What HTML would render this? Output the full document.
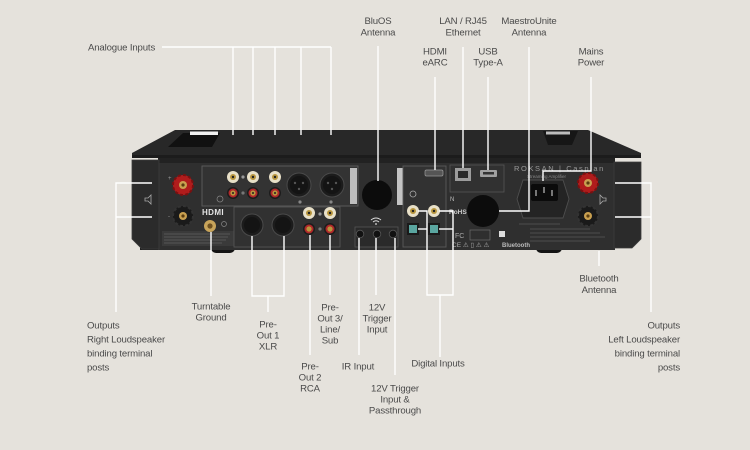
<!DOCTYPE html>
<html><head><meta charset="utf-8"><style>
html,body{margin:0;padding:0;background:#e5e2dc;}
svg{display:block;}
.t{font-family:"Liberation Sans",sans-serif;font-size:9.6px;fill:#4a4a4a;letter-spacing:-0.15px;}
.m{text-anchor:middle;}
.e{text-anchor:end;}
.w{stroke:#fff;stroke-width:1.4;fill:none;}
</style></head><body>
<svg width="750" height="450" viewBox="0 0 750 450" xmlns="http://www.w3.org/2000/svg">
<rect width="750" height="450" fill="#e5e2dc"/>

<!-- body top surface -->
<polygon points="175,130 588,130 641,153 641,158 132,158 132,153" fill="#282828"/>
<polygon points="183,133 220,133 212,147 168,147" fill="#111"/>
<rect x="190" y="131.5" width="28" height="3.5" fill="#f2f2f2"/>
<polygon points="543,131 578,131 572,145 548,145" fill="#161616"/>
<rect x="546" y="131.5" width="24" height="3" fill="#bdbdbd"/>
<rect x="132" y="155" width="509" height="3" fill="#1c1c1c"/>

<!-- feet -->
<rect x="211" y="243" width="24" height="10" rx="5" fill="#141414"/>
<rect x="536" y="243" width="26" height="10" rx="5" fill="#141414"/>
<rect x="140" y="240" width="75" height="10" fill="#1e1e1e"/>

<!-- face -->
<rect x="158" y="158" width="457" height="92" fill="#2f2f2f"/>
<rect x="158" y="158" width="457" height="5" fill="#222"/>
<!-- side blocks -->
<polygon points="132,160 159,160 159,249 142,249 132,239" fill="#2b2b2b" stroke="#3c3c3c" stroke-width="0.8"/>
<polygon points="614,162 641,162 641,239 632,248 614,248" fill="#2b2b2b" stroke="#3c3c3c" stroke-width="0.8"/>

<!-- small printed text block left -->
<rect x="162" y="231" width="72" height="15" fill="#3a3a3a"/>
<g stroke="#8a8a8a" stroke-width="0.6" opacity="0.7">
<line x1="164" y1="234" x2="230" y2="234"/><line x1="164" y1="237" x2="228" y2="237"/>
<line x1="164" y1="240" x2="226" y2="240"/><line x1="164" y1="243" x2="222" y2="243"/>
</g>

<!-- left binding posts -->
<g>
<circle cx="183" cy="185" r="10" fill="#b01c1c"/>
<circle cx="183" cy="185" r="10" fill="none" stroke="#7a1010" stroke-width="2" stroke-dasharray="3 2.2"/>
<circle cx="183" cy="185" r="4" fill="#c9a050"/><circle cx="183" cy="185" r="1.6" fill="#5a3d10"/>
<circle cx="183" cy="216" r="10" fill="#1a1a1a"/>
<circle cx="183" cy="216" r="10" fill="none" stroke="#333" stroke-width="2" stroke-dasharray="3 2.2"/>
<circle cx="183" cy="216" r="4" fill="#c9a050"/><circle cx="183" cy="216" r="1.6" fill="#5a3d10"/>
<text x="168" y="180" font-family="Liberation Sans" font-size="6" fill="#999">+</text>
<text x="168" y="218" font-family="Liberation Sans" font-size="6" fill="#999">-</text>
<path d="M145,198 h3 l3,-3 v9 l-3,-3 h-3 z" fill="none" stroke="#aaa" stroke-width="0.8"/>
</g>
<text x="202" y="215" font-family="Liberation Sans" font-size="8" font-weight="bold" fill="#e6e6e6" letter-spacing="0.4">HDMI</text>
<circle cx="210" cy="226" r="6" fill="#c8a45a"/><circle cx="210" cy="226" r="2.6" fill="#6e5020"/>
<circle cx="224" cy="224" r="2.5" fill="none" stroke="#888" stroke-width="0.7"/>

<!-- analogue subpanel -->
<rect x="202" y="166" width="156" height="40" fill="#333" stroke="#5e5e5e" stroke-width="0.9"/>
<rect x="350" y="168" width="7" height="36" fill="#bdbdbd"/>
<g>
<circle cx="233" cy="177" r="6" fill="#e8e0c8"/><circle cx="233" cy="177" r="3" fill="#b8963e"/><circle cx="233" cy="177" r="1.2" fill="#222"/>
<circle cx="253" cy="177" r="6" fill="#e8e0c8"/><circle cx="253" cy="177" r="3" fill="#b8963e"/><circle cx="253" cy="177" r="1.2" fill="#222"/>
<circle cx="275" cy="177" r="6" fill="#e8e0c8"/><circle cx="275" cy="177" r="3" fill="#b8963e"/><circle cx="275" cy="177" r="1.2" fill="#222"/>
<circle cx="233" cy="193" r="6" fill="#1c1c1c"/><circle cx="233" cy="193" r="4.5" fill="#b0282a"/><circle cx="233" cy="193" r="2.6" fill="#b8963e"/><circle cx="233" cy="193" r="1" fill="#222"/>
<circle cx="253" cy="193" r="6" fill="#1c1c1c"/><circle cx="253" cy="193" r="4.5" fill="#b0282a"/><circle cx="253" cy="193" r="2.6" fill="#b8963e"/><circle cx="253" cy="193" r="1" fill="#222"/>
<circle cx="275" cy="193" r="6" fill="#1c1c1c"/><circle cx="275" cy="193" r="4.5" fill="#b0282a"/><circle cx="275" cy="193" r="2.6" fill="#b8963e"/><circle cx="275" cy="193" r="1" fill="#222"/>
<circle cx="243" cy="177" r="1.6" fill="#999"/><circle cx="243" cy="193" r="1.6" fill="#777"/>
<circle cx="220" cy="199" r="3" fill="none" stroke="#888" stroke-width="0.7"/>
<circle cx="299" cy="185" r="12" fill="#1c1c1c" stroke="#4a4a4a" stroke-width="1"/>
<circle cx="299" cy="185" r="9" fill="#141414"/>
<circle cx="295" cy="183" r="1.2" fill="#555"/><circle cx="303" cy="183" r="1.2" fill="#555"/><circle cx="299" cy="189" r="1.2" fill="#555"/>
<circle cx="332" cy="185" r="12" fill="#1c1c1c" stroke="#4a4a4a" stroke-width="1"/>
<circle cx="332" cy="185" r="9" fill="#141414"/>
<circle cx="328" cy="183" r="1.2" fill="#555"/><circle cx="336" cy="183" r="1.2" fill="#555"/><circle cx="332" cy="189" r="1.2" fill="#555"/>
<circle cx="300" cy="202" r="1.6" fill="#888"/><circle cx="331" cy="202" r="1.6" fill="#888"/>
</g>

<!-- pre-out subpanel -->
<rect x="234" y="207" width="106" height="40" fill="#313131" stroke="#555" stroke-width="0.9"/>
<circle cx="252" cy="225" r="11" fill="#1c1c1c" stroke="#4a4a4a" stroke-width="1"/>
<circle cx="252" cy="225" r="8" fill="#141414"/>
<circle cx="283" cy="225" r="11" fill="#1c1c1c" stroke="#4a4a4a" stroke-width="1"/>
<circle cx="283" cy="225" r="8" fill="#141414"/>
<circle cx="309" cy="213" r="6" fill="#e8e0c8"/><circle cx="309" cy="213" r="3" fill="#b8963e"/><circle cx="309" cy="213" r="1.2" fill="#222"/>
<circle cx="330" cy="213" r="6" fill="#e8e0c8"/><circle cx="330" cy="213" r="3" fill="#b8963e"/><circle cx="330" cy="213" r="1.2" fill="#222"/>
<circle cx="309" cy="229" r="6" fill="#1c1c1c"/><circle cx="309" cy="229" r="4.5" fill="#b0282a"/><circle cx="309" cy="229" r="2.6" fill="#b8963e"/>
<circle cx="330" cy="229" r="6" fill="#1c1c1c"/><circle cx="330" cy="229" r="4.5" fill="#b0282a"/><circle cx="330" cy="229" r="2.6" fill="#b8963e"/>
<circle cx="320" cy="214" r="1.6" fill="#999"/><circle cx="320" cy="229" r="1.6" fill="#777"/>

<!-- BluOS antenna -->
<circle cx="377" cy="195" r="15" fill="#0c0c0c"/>
<path d="M371,220 q5,-4 10,0 M373,222 q3,-2.5 6,0" fill="none" stroke="#ddd" stroke-width="1"/>
<circle cx="376" cy="224" r="0.9" fill="#ddd"/>
<!-- trigger panel -->
<rect x="355" y="227" width="43" height="20" fill="#2a2a2a" stroke="#555" stroke-width="0.8"/>
<circle cx="360" cy="234" r="3.8" fill="#111" stroke="#555" stroke-width="0.8"/>
<circle cx="377" cy="234" r="3.8" fill="#111" stroke="#555" stroke-width="0.8"/>
<circle cx="393" cy="234" r="3.8" fill="#111" stroke="#555" stroke-width="0.8"/>

<!-- digital panel -->
<rect x="397" y="168" width="6" height="37" fill="#c4c4c4"/>
<rect x="403" y="166" width="43" height="81" fill="#323232" stroke="#5a5a5a" stroke-width="0.9"/>
<rect x="425" y="170" width="18" height="6" rx="1.5" fill="#555" stroke="#999" stroke-width="0.7"/>
<circle cx="413" cy="194" r="3" fill="none" stroke="#aaa" stroke-width="0.8"/>
<circle cx="413" cy="211" r="6" fill="#e8e0c8"/><circle cx="413" cy="211" r="3" fill="#b8963e"/><circle cx="413" cy="211" r="1.2" fill="#222"/>
<circle cx="434" cy="211" r="6" fill="#e8e0c8"/><circle cx="434" cy="211" r="3" fill="#b8963e"/><circle cx="434" cy="211" r="1.2" fill="#222"/>
<rect x="407" y="223" width="12" height="12" fill="#1a1a1a"/><rect x="409" y="225" width="8" height="8" fill="#5aa6a0"/>
<rect x="428" y="223" width="12" height="12" fill="#1a1a1a"/><rect x="430" y="225" width="8" height="8" fill="#5aa6a0"/>

<!-- LAN/USB panel -->
<rect x="450" y="165" width="54" height="27" fill="#313131" stroke="#555" stroke-width="0.8"/>
<rect x="455" y="168" width="16" height="13" fill="#9c9c9c"/>
<rect x="458" y="171" width="10" height="7" fill="#2a2a2a"/>
<rect x="480" y="170" width="17" height="7" rx="1" fill="#a0a0a0"/>
<rect x="483" y="172" width="11" height="2.5" fill="#333"/>
<!-- logos -->
<text x="450" y="201" font-family="Liberation Sans" font-size="6" fill="#bbb">N</text>
<text x="449" y="214" font-family="Liberation Sans" font-size="6.5" font-weight="bold" fill="#ccc">RoHS</text>
<text x="455" y="238" font-family="Liberation Sans" font-size="7" fill="#aaa">FC</text>
<text x="452" y="247" font-family="Liberation Sans" font-size="6.5" fill="#aaa">CE ⚠ ▯ ⚠ ⚠</text>
<text x="502" y="247" font-family="Liberation Sans" font-size="6" font-weight="bold" fill="#bbb">Bluetooth</text>
<rect x="499" y="231" width="6" height="6" fill="#ddd"/>
<rect x="470" y="230" width="20" height="10" fill="none" stroke="#777" stroke-width="0.6"/>
<!-- Maestro antenna -->
<circle cx="483" cy="211" r="16" fill="#0c0c0c"/>
<!-- ROKSAN -->
<text x="514" y="171" font-family="Liberation Sans" font-size="7.5" fill="#9a9a9a" letter-spacing="1.6">ROKSAN | Caspian</text>
<text x="527" y="178" font-family="Liberation Sans" font-size="4.5" fill="#888">Streaming Amplifier</text>
<!-- IEC -->
<polygon points="523,180 563,180 569,199 563,218 523,218 517,199" fill="#242424" stroke="#4e4e4e" stroke-width="0.9"/>
<rect x="531" y="184" width="27" height="17" rx="2" fill="#0b0b0b"/>
<rect x="535" y="190" width="2" height="6" fill="#777"/><rect x="543" y="187" width="2" height="6" fill="#777"/><rect x="551" y="190" width="2" height="6" fill="#777"/>
<!-- right printed text -->
<g stroke="#888" stroke-width="0.6" opacity="0.7">
<line x1="519" y1="224" x2="560" y2="224"/>
<line x1="530" y1="229" x2="590" y2="229"/><line x1="530" y1="233" x2="600" y2="233"/>
<line x1="530" y1="237" x2="605" y2="237"/><line x1="530" y1="241" x2="590" y2="241"/>
</g>
<!-- right binding posts -->
<circle cx="588" cy="183" r="10" fill="#b01c1c"/>
<circle cx="588" cy="183" r="10" fill="none" stroke="#7a1010" stroke-width="2" stroke-dasharray="3 2.2"/>
<circle cx="588" cy="183" r="4" fill="#c9a050"/><circle cx="588" cy="183" r="1.6" fill="#5a3d10"/>
<circle cx="588" cy="216" r="10" fill="#1a1a1a"/>
<circle cx="588" cy="216" r="10" fill="none" stroke="#333" stroke-width="2" stroke-dasharray="3 2.2"/>
<circle cx="588" cy="216" r="4" fill="#c9a050"/><circle cx="588" cy="216" r="1.6" fill="#5a3d10"/>
<path d="M606,198 h-3 l-3,-3 v9 l3,-3 h3 z" fill="none" stroke="#aaa" stroke-width="0.8"/>

<!-- leader lines -->
<g class="w">
<!-- analogue -->
<polyline points="162,47 331,47"/>
<line x1="233" y1="47" x2="233" y2="135"/><line x1="253" y1="47" x2="253" y2="135"/>
<line x1="275" y1="47" x2="275" y2="135"/><line x1="301" y1="47" x2="301" y2="135"/>
<line x1="331" y1="47" x2="331" y2="135"/>
<!-- top -->
<line x1="378" y1="46" x2="378" y2="181"/>
<line x1="435" y1="77" x2="435" y2="170"/>
<line x1="463" y1="47" x2="463" y2="168"/>
<line x1="488" y1="77" x2="488" y2="170"/>
<polyline points="529,47 529,211 499,211"/>
<polyline points="591,77 591,171 543,171 543,181"/>
<!-- outputs left -->
<polyline points="152,183 116,183 116,312"/>
<line x1="116" y1="217" x2="152" y2="217"/>
<!-- outputs right -->
<polyline points="615,183 651,183 651,312"/>
<line x1="615" y1="217" x2="651" y2="217"/>
<!-- turntable -->
<line x1="211" y1="232" x2="211" y2="296"/>
<!-- pre-out 1 -->
<polyline points="252,236 252,296 284,296 284,236"/>
<line x1="268" y1="296" x2="268" y2="312"/>
<!-- pre-out 2/3 -->
<line x1="310" y1="235" x2="310" y2="355"/>
<line x1="330" y1="235" x2="330" y2="295"/>
<!-- IR / trigger -->
<line x1="359" y1="238" x2="359" y2="355"/>
<line x1="376" y1="238" x2="376" y2="295"/>
<line x1="395" y1="238" x2="395" y2="375"/>
<!-- digital -->
<polyline points="418,211 427,211 427,295 453,295 453,211 439,211"/>
<line x1="418" y1="229" x2="427" y2="229"/>
<line x1="439" y1="229" x2="453" y2="229"/>
<line x1="440" y1="295" x2="440" y2="357"/>
<!-- bluetooth -->
<line x1="599" y1="251" x2="599" y2="266"/>
</g>

<!-- labels -->
<g class="t">
<text x="88" y="50.5">Analogue Inputs</text>
<text class="m" x="378" y="24">BluOS</text><text class="m" x="378" y="35.5">Antenna</text>
<text class="m" x="463" y="24">LAN / RJ45</text><text class="m" x="463" y="35.5">Ethernet</text>
<text class="m" x="529" y="24">MaestroUnite</text><text class="m" x="529" y="35.5">Antenna</text>
<text class="m" x="435" y="54.5">HDMI</text><text class="m" x="435" y="65.5">eARC</text>
<text class="m" x="488" y="54.5">USB</text><text class="m" x="488" y="65.5">Type-A</text>
<text class="m" x="591" y="54.5">Mains</text><text class="m" x="591" y="65.5">Power</text>

<text x="87" y="328.5">Outputs</text>
<text x="87" y="342.5">Right Loudspeaker</text>
<text x="87" y="356.5">binding terminal</text>
<text x="87" y="370.5">posts</text>

<text class="m" x="211" y="309.5">Turntable</text><text class="m" x="211" y="320.5">Ground</text>
<text class="m" x="268" y="327.5">Pre-</text><text class="m" x="268" y="338.5">Out 1</text><text class="m" x="268" y="349.5">XLR</text>
<text class="m" x="310" y="369.5">Pre-</text><text class="m" x="310" y="380.5">Out 2</text><text class="m" x="310" y="391.5">RCA</text>
<text class="m" x="330" y="310.5">Pre-</text><text class="m" x="330" y="321.5">Out 3/</text><text class="m" x="330" y="332.5">Line/</text><text class="m" x="330" y="343.5">Sub</text>
<text class="m" x="377" y="310.5">12V</text><text class="m" x="377" y="321.5">Trigger</text><text class="m" x="377" y="332.5">Input</text>
<text class="m" x="358" y="369.5">IR Input</text>
<text class="m" x="395" y="391.5">12V Trigger</text><text class="m" x="395" y="402.5">Input &amp;</text><text class="m" x="395" y="413.5">Passthrough</text>
<text class="m" x="438" y="366.5">Digital Inputs</text>
<text class="m" x="599" y="281.5">Bluetooth</text><text class="m" x="599" y="293">Antenna</text>

<text class="e" x="680" y="328.5">Outputs</text>
<text class="e" x="680" y="342.5">Left Loudspeaker</text>
<text class="e" x="680" y="356.5">binding terminal</text>
<text class="e" x="680" y="370.5">posts</text>
</g>
</svg>
</body></html>
